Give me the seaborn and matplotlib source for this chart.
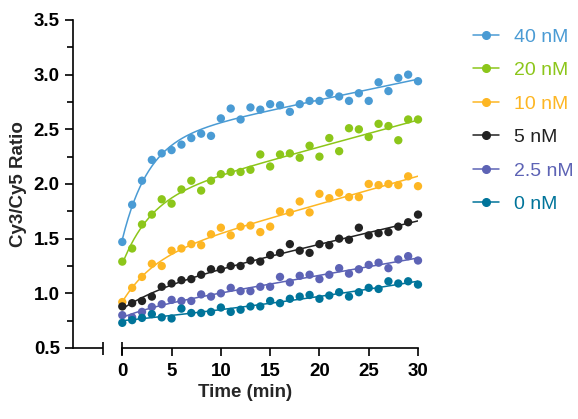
import numpy as np
import pandas as pd
import matplotlib
matplotlib.use("Agg")
import matplotlib.pyplot as plt
import seaborn as sns
from matplotlib.lines import Line2D

# time points (min) and read-off ratios for each concentration
time_min = list(range(31))

nm40 = [1.47, 1.81, 2.03, 2.22, 2.28, 2.31, 2.36, 2.42, 2.46, 2.44, 2.60, 2.69,
        2.59, 2.70, 2.68, 2.73, 2.72, 2.66, 2.73, 2.76, 2.76, 2.83, 2.80, 2.76,
        2.83, 2.76, 2.93, 2.85, 2.97, 3.00, 2.94]
nm20 = [1.29, 1.41, 1.63, 1.72, 1.86, 1.82, 1.95, 2.03, 1.94, 2.03, 2.09, 2.11,
        2.11, 2.13, 2.27, 2.16, 2.27, 2.28, 2.24, 2.35, 2.25, 2.42, 2.30, 2.51,
        2.50, 2.43, 2.55, 2.53, 2.40, 2.59, 2.59]
nm10 = [0.92, 1.05, 1.15, 1.27, 1.25, 1.39, 1.41, 1.45, 1.44, 1.54, 1.60, 1.53,
        1.61, 1.62, 1.56, 1.61, 1.75, 1.74, 1.84, 1.74, 1.91, 1.87, 1.92, 1.88,
        1.88, 2.00, 1.99, 2.00, 1.99, 2.07, 1.98]
nm5 = [0.88, 0.91, 0.93, 0.97, 1.06, 1.09, 1.12, 1.13, 1.17, 1.22, 1.22, 1.25,
       1.25, 1.30, 1.29, 1.35, 1.37, 1.45, 1.39, 1.37, 1.45, 1.44, 1.50, 1.49,
       1.60, 1.53, 1.55, 1.56, 1.61, 1.65, 1.72]
nm2_5 = [0.80, 0.78, 0.83, 0.875, 0.90, 0.94, 0.93, 0.93, 0.99, 0.97, 1.00, 1.05,
         1.02, 1.02, 1.06, 1.06, 1.15, 1.10, 1.16, 1.17, 1.13, 1.17, 1.23, 1.18,
         1.22, 1.26, 1.28, 1.23, 1.31, 1.34, 1.30]
nm0 = [0.73, 0.755, 0.775, 0.81, 0.78, 0.77, 0.86, 0.82, 0.82, 0.83, 0.87, 0.83,
       0.85, 0.88, 0.88, 0.93, 0.91, 0.95, 0.97, 0.985, 0.95, 0.98, 1.01, 0.97,
       1.01, 1.05, 1.04, 1.11, 1.09, 1.11, 1.08]

labels = ["40 nM", "20 nM", "10 nM", "5 nM", "2.5 nM", "0 nM"]
colors = ["#4a9bd4", "#8cc61a", "#fdb623", "#222222", "#5d63b5", "#00749a"]
series = [nm40, nm20, nm10, nm5, nm2_5, nm0]

frames = []
for lab, vals in zip(labels, series):
    frames.append(pd.DataFrame({"Time": time_min, "Ratio": vals, "Conc": lab}))
df = pd.concat(frames, ignore_index=True)


def fit_curve(t, y, tt):
    # y = a + b*(1 - exp(-t/tau)) + c*t, tau picked by grid search
    t = np.asarray(t, float)
    y = np.asarray(y, float)
    best = None
    for tau in np.logspace(-1, 2.5, 300):
        A = np.column_stack([np.ones_like(t), 1 - np.exp(-t / tau), t])
        coef, res, *_ = np.linalg.lstsq(A, y, rcond=None)
        err = np.sum((A @ coef - y) ** 2)
        if best is None or err < best[0]:
            best = (err, tau, coef)
    _, tau, coef = best
    return coef[0] + coef[1] * (1 - np.exp(-tt / tau)) + coef[2] * tt


sns.set_style("ticks")
plt.rcParams["font.family"] = ["Liberation Sans", "DejaVu Sans"]

fig = plt.figure(figsize=(5.78, 4.19), dpi=100)
ax = fig.add_axes([0.1263, 0.1695, 0.7232 - 0.1263, 0.9523 - 0.1695])

palette = dict(zip(labels, colors))
tt = np.linspace(0, 30, 301)
for lab, vals in zip(labels, series):
    sns.lineplot(x=tt, y=fit_curve(time_min, vals, tt), color=palette[lab],
                 linewidth=1.1, ax=ax, zorder=2)
sns.scatterplot(data=df, x="Time", y="Ratio", hue="Conc", palette=palette,
                s=36, edgecolor="none", legend=False, ax=ax, zorder=3,
                clip_on=False)

ax.set_xlim(-5, 30)
ax.set_ylim(0.5, 3.5)
ax.set_xticks([0, 5, 10, 15, 20, 25, 30])
ax.set_yticks(np.arange(0.5, 3.51, 0.5))
ax.set_yticks(np.arange(0.75, 3.5, 0.5), minor=True)
ax.yaxis.set_major_formatter(plt.FormatStrFormatter("%.1f"))

for side in ["top", "right"]:
    ax.spines[side].set_visible(False)
for side in ["left", "bottom"]:
    ax.spines[side].set_linewidth(1.2)
    ax.spines[side].set_color("black")
ax.spines["bottom"].set_bounds(0, 30)

# broken x axis: short stub from the y axis, with end caps
xtr = ax.get_xaxis_transform()
ax.plot([-5, -2], [0, 0], color="black", lw=1.2, transform=xtr,
        clip_on=False, solid_capstyle="butt")
ax.vlines([-2, 0], -0.02, 0.018, color="black", lw=1.2, transform=xtr,
          clip_on=False)

ax.tick_params(axis="both", which="major", length=6, width=1.2,
               labelsize=13.5, colors="black")
ax.tick_params(axis="y", which="minor", length=4, width=1.2, color="black")
ax.tick_params(axis="x", pad=5)
for lbl in ax.get_xticklabels() + ax.get_yticklabels():
    lbl.set_fontweight("bold")

ax.set_xlabel("Time (min)", fontsize=13.5, fontweight="bold", labelpad=3)
ax.set_ylabel("Cy3/Cy5 Ratio", fontsize=13.5, fontweight="bold", labelpad=5)

handles = [Line2D([0], [0], color=c, marker="o", markersize=5.5, lw=1.1)
           for c in colors]
leg = ax.legend(handles, labels, loc="upper left",
                bbox_to_anchor=(0.805, 0.952), bbox_transform=fig.transFigure,
                frameon=False, fontsize=14, handlelength=1.35,
                handletextpad=0.75, labelspacing=0.82, borderaxespad=0)
for txt, c in zip(leg.get_texts(), colors):
    txt.set_color(c)

fig.savefig("out.png", dpi=100)
